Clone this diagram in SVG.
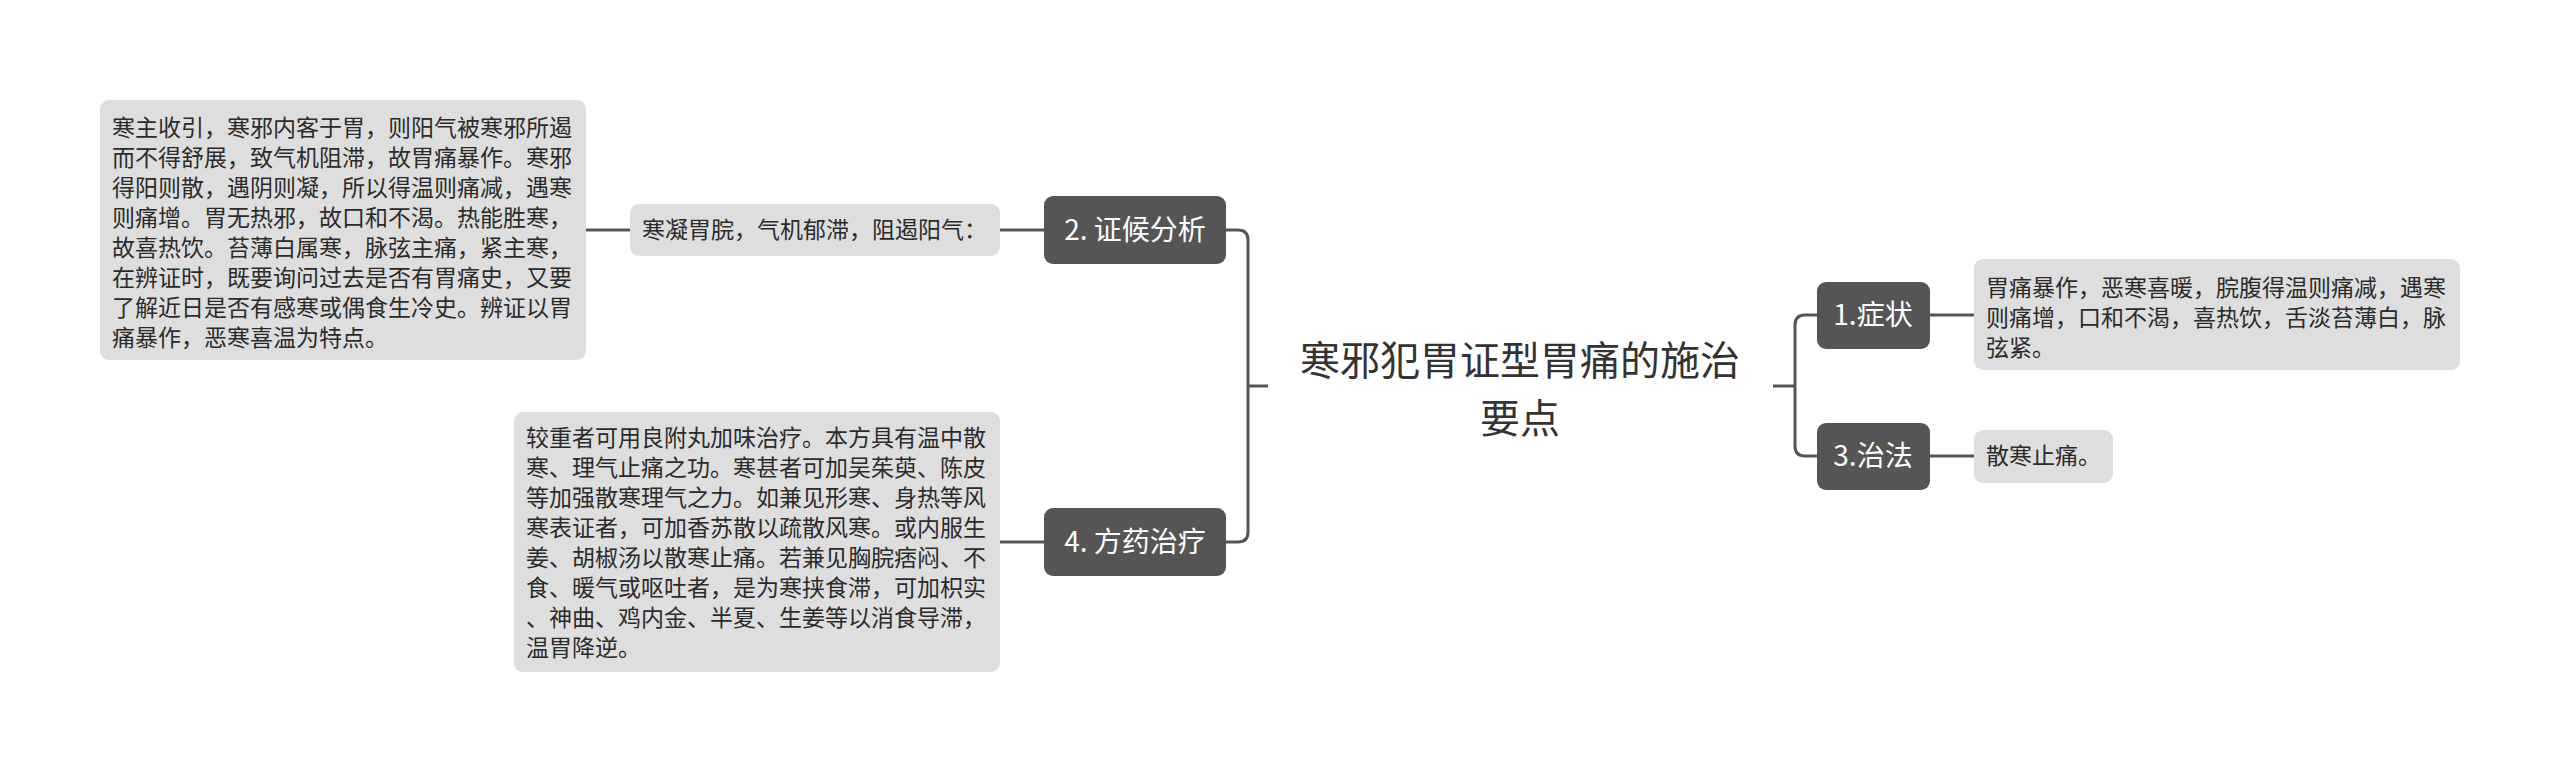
<svg xmlns="http://www.w3.org/2000/svg" width="2560" height="772" viewBox="0 0 2560 772">
<style>
.bg{fill:#ffffff}
.leaf{fill:#dedede}
.main{fill:#555555}
.lt{font-family:"Noto Sans CJK SC","Noto Sans",sans-serif;font-size:23px;fill:#2b2b2b}
.mt{font-family:"Noto Sans CJK SC","Noto Sans",sans-serif;font-size:28px;fill:#ffffff;text-anchor:middle}
.tt{font-family:"Noto Sans CJK SC","Noto Sans",sans-serif;font-size:40px;fill:#333333;text-anchor:middle}
.ln{fill:none;stroke:#555555;stroke-width:3}
</style>
<rect class="bg" x="0" y="0" width="2560" height="772"/>
<g id="connectors">
<path class="ln" d="M586,230 H630"/>
<path class="ln" d="M1000,230 H1044"/>
<path class="ln" d="M1000,542 H1044"/>
<path class="ln" d="M1226,230 H1238 Q1248,230 1248,240 V532 Q1248,542 1238,542 H1226"/>
<path class="ln" d="M1248,386 H1268"/>
<path class="ln" d="M1773,386 H1795"/>
<path class="ln" d="M1817,315 H1805 Q1795,315 1795,325 V446 Q1795,456 1805,456 H1817"/>
<path class="ln" d="M1930,315 H1974"/>
<path class="ln" d="M1930,456 H1974"/>
</g>
<g id="root">
<text class="tt" x="1520" y="375">寒邪犯胃证型胃痛的施治</text>
<text class="tt" x="1520" y="433">要点</text>
</g>
<g id="node-2">
<rect class="main" x="1044" y="196" width="182" height="68" rx="9"/>
<text class="mt" x="1135" y="240">2. 证候分析</text>
</g>
<g id="node-2-1">
<rect class="leaf" x="630" y="204" width="370" height="52" rx="9"/>
<text class="lt" x="642" y="238">寒凝胃脘，气机郁滞，阻遏阳气：</text>
</g>
<g id="node-2-1-1">
<rect class="leaf" x="100" y="100" width="486" height="260" rx="9"/>
<text class="lt" x="112" y="136">寒主收引，寒邪内客于胃，则阳气被寒邪所遏</text>
<text class="lt" x="112" y="166">而不得舒展，致气机阻滞，故胃痛暴作。寒邪</text>
<text class="lt" x="112" y="196">得阳则散，遇阴则凝，所以得温则痛减，遇寒</text>
<text class="lt" x="112" y="226">则痛增。胃无热邪，故口和不渴。热能胜寒，</text>
<text class="lt" x="112" y="256">故喜热饮。苔薄白属寒，脉弦主痛，紧主寒，</text>
<text class="lt" x="112" y="286">在辨证时，既要询问过去是否有胃痛史，又要</text>
<text class="lt" x="112" y="316">了解近日是否有感寒或偶食生冷史。辨证以胃</text>
<text class="lt" x="112" y="346">痛暴作，恶寒喜温为特点。</text>
</g>
<g id="node-4">
<rect class="main" x="1044" y="508" width="182" height="68" rx="9"/>
<text class="mt" x="1135" y="552">4. 方药治疗</text>
</g>
<g id="node-4-1">
<rect class="leaf" x="514" y="412" width="486" height="260" rx="9"/>
<text class="lt" x="526" y="446">较重者可用良附丸加味治疗。本方具有温中散</text>
<text class="lt" x="526" y="476">寒、理气止痛之功。寒甚者可加吴茱萸、陈皮</text>
<text class="lt" x="526" y="506">等加强散寒理气之力。如兼见形寒、身热等风</text>
<text class="lt" x="526" y="536">寒表证者，可加香苏散以疏散风寒。或内服生</text>
<text class="lt" x="526" y="566">姜、胡椒汤以散寒止痛。若兼见胸脘痞闷、不</text>
<text class="lt" x="526" y="596">食、暖气或呕吐者，是为寒挟食滞，可加枳实</text>
<text class="lt" x="526" y="626">、神曲、鸡内金、半夏、生姜等以消食导滞，</text>
<text class="lt" x="526" y="656">温胃降逆。</text>
</g>
<g id="node-1">
<rect class="main" x="1817" y="282" width="113" height="67" rx="9"/>
<text class="mt" x="1873" y="325">1.症状</text>
</g>
<g id="node-1-1">
<rect class="leaf" x="1974" y="259" width="486" height="111" rx="9"/>
<text class="lt" x="1986" y="296">胃痛暴作，恶寒喜暖，脘腹得温则痛减，遇寒</text>
<text class="lt" x="1986" y="326">则痛增，口和不渴，喜热饮，舌淡苔薄白，脉</text>
<text class="lt" x="1986" y="356">弦紧。</text>
</g>
<g id="node-3">
<rect class="main" x="1817" y="423" width="113" height="67" rx="9"/>
<text class="mt" x="1873" y="466">3.治法</text>
</g>
<g id="node-3-1">
<rect class="leaf" x="1974" y="430" width="139" height="53" rx="9"/>
<text class="lt" x="1986" y="464">散寒止痛。</text>
</g>
</svg>
